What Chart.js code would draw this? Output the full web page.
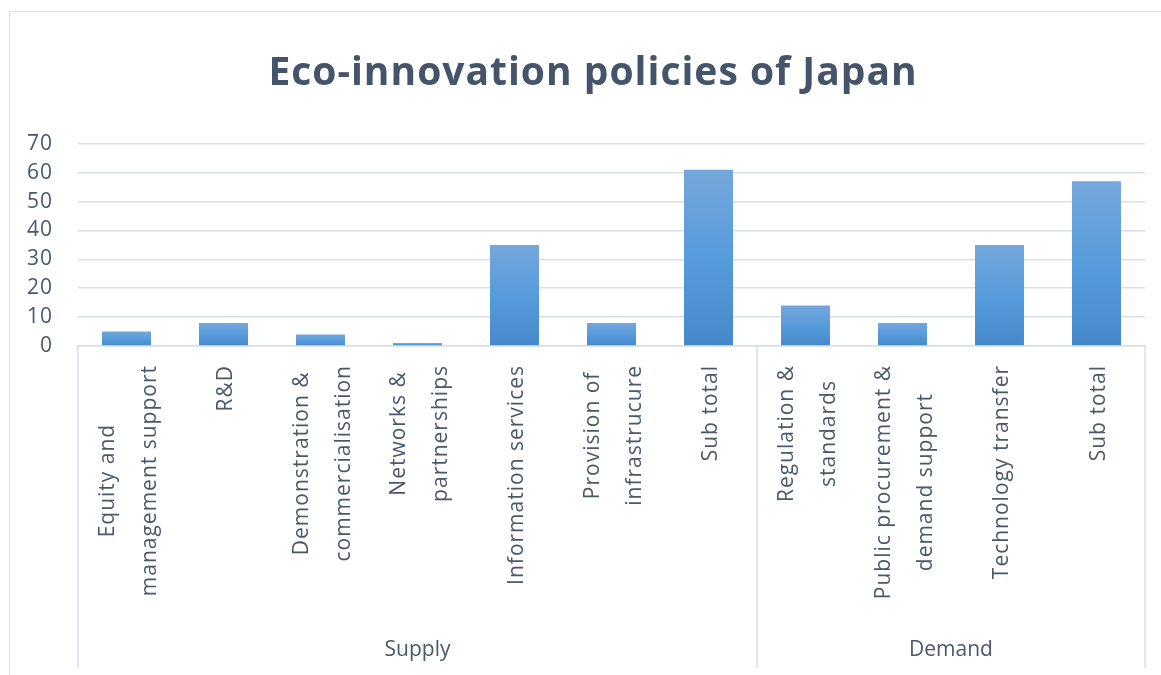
<!DOCTYPE html>
<html>
<head>
<meta charset="utf-8">
<script src="https://cdn.jsdelivr.net/npm/chart.js@4/dist/chart.umd.min.js"></script>
<style>
  html, body { margin: 0; padding: 0; background: #ffffff; overflow: hidden; }
  #wrap { position: relative; width: 1161px; height: 675px; }
  #frame { position: absolute; left: 9px; top: 11px; width: 1400px; height: 900px;
           border: 1.5px solid #DADFE6; box-sizing: border-box; }
  canvas { position: absolute; left: 0; top: 0; }
</style>
</head>
<body>
<div id="wrap">
  <div id="frame"></div>
  <canvas id="c" width="1161" height="675"></canvas>
</div>
<script>
// ---- data ----
const titleText = 'Eco-innovation policies of Japan';
const categories = [
  ['Equity and', 'management support'],
  'R&D',
  ['Demonstration &', 'commercialisation'],
  ['Networks &', 'partnerships'],
  'Information services',
  ['Provision of', 'infrastrucure'],
  'Sub total',
  ['Regulation &', 'standards'],
  ['Public procurement &', 'demand support'],
  'Technology transfer',
  'Sub total'
];
const policyCounts = [5, 8, 4, 1, 35, 8, 61, 14, 8, 35, 57];
const groupNames = ['Supply', 'Demand'];
const groupSizes = [7, 4];
const yMin = 0, yMax = 70, yStep = 10;

// ---- styles ----
const FONT = "'Open Sans', 'Noto Sans', sans-serif";
const TEXT = '#4A586C';
const GRID = '#DADFE6';

function barGradient(c) {
  const chart = c.chart;
  const ys = chart.scales && chart.scales.y;
  if (c.type !== 'data' || !ys) return '#5B9BD5';
  const top = ys.getPixelForValue(c.raw);
  const base = ys.getPixelForValue(0);
  if (!isFinite(top) || !isFinite(base) || top === base) return '#5B9BD5';
  const g = chart.ctx.createLinearGradient(0, top, 0, base);
  g.addColorStop(0, '#75A7DC');
  g.addColorStop(0.5, '#569BDB');
  g.addColorStop(1, '#4689CA');
  return g;
}

// Slightly wider text tracking, like the original rendering
const tracking = {
  id: 'tracking',
  beforeDraw(chart) { chart.ctx.letterSpacing = '1px'; },
  afterDatasetsDraw(chart) { chart.ctx.letterSpacing = '0px'; }
};

// Title centred over the whole chart frame rather than the padded box
const titleShift = {
  id: 'titleShift',
  afterLayout(chart) {
    if (chart.titleBlock) chart.titleBlock.left = 41;
  }
};

// Center multi-line rotated tick labels on their tick (Excel style)
const xLabelFix = {
  id: 'xLabelFix',
  beforeDraw(chart) {
    const sc = chart.scales.x;
    const items = sc.getLabelItems();
    if (items._fixed) return;
    const ctx = chart.ctx;
    items.forEach((it, i) => {
      const lines = Array.isArray(it.label) ? it.label : [it.label];
      ctx.save();
      ctx.font = it.font.string;
      const w = Math.max(...lines.map(l => ctx.measureText(l).width));
      ctx.restore();
      const px = sc.getPixelForTick(i);
      const lh = it.font.lineHeight;
      it.textOffset = 0;
      it.options.translation = [px - (lines.length - 1) / 2 * lh + 3, sc.top + 19 + w / 2];
      it.options.textAlign = 'center';
      it.options.textBaseline = 'middle';
    });
    items._fixed = true;
  }
};

// Multi-level category axis: group separators and group names
const groupAxis = {
  id: 'groupAxis',
  afterDraw(chart) {
    const sc = chart.scales.x;
    const ctx = chart.ctx;
    const yTop = sc.top;
    const yBot = sc.bottom - 7;
    ctx.save();
    ctx.strokeStyle = GRID;
    ctx.lineWidth = 1.5;
    let start = 0;
    const bounds = [0];
    groupSizes.forEach(s => { start += s; bounds.push(start); });
    bounds.forEach(b => {
      const x = sc.getPixelForValue(b - 0.5);
      ctx.beginPath();
      ctx.moveTo(x, yTop);
      ctx.lineTo(x, yBot);
      ctx.stroke();
    });
    ctx.fillStyle = TEXT;
    ctx.font = "21px " + FONT;
    ctx.textAlign = 'center';
    ctx.textBaseline = 'middle';
    groupNames.forEach((g, i) => {
      const x0 = sc.getPixelForValue(bounds[i] - 0.5);
      const x1 = sc.getPixelForValue(bounds[i + 1] - 0.5);
      ctx.fillText(g, (x0 + x1) / 2, yTop + 304);
    });
    ctx.restore();
  }
};

new Chart(document.getElementById('c'), {
  type: 'bar',
  data: {
    labels: categories,
    datasets: [{
      label: 'Policies',
      data: policyCounts,
      backgroundColor: barGradient,
      borderWidth: 0,
      barPercentage: 0.505,
      categoryPercentage: 1.0
    }]
  },
  options: {
    responsive: false,
    animation: false,
    events: [],
    layout: { padding: { left: 10, right: 16, top: 0, bottom: 0 } },
    plugins: {
      legend: { display: false },
      tooltip: { enabled: false },
      title: {
        display: true,
        text: titleText,
        color: '#44546A',
        font: { family: FONT, size: 39, weight: 'bold', lineHeight: 1.2 },
        padding: { top: 50, bottom: 47 }
      }
    },
    scales: {
      x: {
        grid: { display: false, drawTicks: false },
        border: { display: true, color: GRID, width: 1.5 },
        ticks: {
          color: TEXT,
          font: { family: FONT, size: 21, lineHeight: 2 },
          minRotation: 90,
          maxRotation: 90,
          autoSkip: false,
          padding: 19
        },
        afterFit(scale) { scale.height = 329; }
      },
      y: {
        min: yMin,
        max: yMax,
        grid: { color: GRID, lineWidth: 1.5, drawTicks: false },
        border: { display: false },
        ticks: {
          stepSize: yStep,
          color: TEXT,
          padding: 25,
          font: { family: FONT, size: 21 }
        },
        afterFit(scale) { scale.width = 68; }
      }
    }
  },
  plugins: [tracking, titleShift, xLabelFix, groupAxis]
});
</script>
</body>
</html>
